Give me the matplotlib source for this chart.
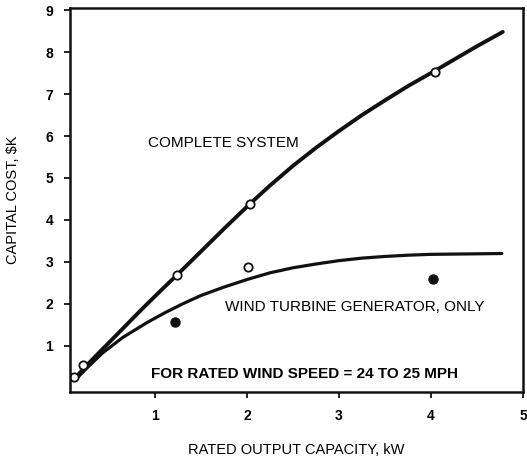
import matplotlib.pyplot as plt

plt.rcParams.update({"font.family": ["Liberation Sans", "DejaVu Sans"], "font.size": 11})

# curves (kW, $K)
complete_x = [0.11, 0.2, 0.33, 0.6, 0.86, 1.05, 1.24, 1.5, 1.75, 2.03, 2.25, 2.5,
              2.75, 3.0, 3.25, 3.5, 3.75, 4.04, 4.25, 4.5, 4.78]
complete_y = [0.18, 0.40, 0.70, 1.30, 1.88, 2.29, 2.69, 3.25, 3.79, 4.38, 4.82, 5.29,
              5.72, 6.12, 6.50, 6.85, 7.19, 7.55, 7.82, 8.14, 8.48]
wind_x = [0.13, 0.25, 0.43, 0.65, 0.91, 1.1, 1.3, 1.5, 1.75, 2.0, 2.25, 2.5,
          2.75, 3.0, 3.25, 3.5, 3.75, 4.0, 4.4, 4.77]
wind_y = [0.18, 0.45, 0.83, 1.20, 1.55, 1.78, 2.00, 2.20, 2.40, 2.58, 2.74, 2.86,
          2.95, 3.03, 3.09, 3.13, 3.16, 3.18, 3.19, 3.20]

# data points
open_x = [0.12, 0.22, 1.24, 2.01, 2.03, 4.04]
open_y = [0.25, 0.55, 2.69, 2.88, 4.38, 7.52]
filled_x = [1.22, 4.02]
filled_y = [1.57, 2.60]

xticks = [1, 2, 3, 4, 5]
yticks = [1, 2, 3, 4, 5, 6, 7, 8, 9]

fig = plt.figure(figsize=(5.27, 4.65), dpi=100)
ax = fig.add_axes([70 / 527, 1 - 392 / 465, 453 / 527, 384 / 465])

ax.plot(complete_x, complete_y, color="#111111", lw=2.8,
        solid_capstyle="round", solid_joinstyle="round")
ax.plot(wind_x, wind_y, color="#111111", lw=2.3,
        solid_capstyle="round", solid_joinstyle="round")
ax.plot(open_x, open_y, "o", ms=6, mfc="white", mec="#111111", mew=1.3)
ax.plot(filled_x, filled_y, "o", ms=6.5, mfc="#111111", mec="#111111")

ax.text(1.74, 5.83, "COMPLETE SYSTEM", ha="center", va="center", fontsize=11)
ax.text(3.17, 1.93, "WIND TURBINE GENERATOR, ONLY", ha="center", va="center", fontsize=11)
ax.text(2.63, 0.33, "FOR RATED WIND SPEED = 24 TO 25 MPH", ha="center", va="center",
        fontsize=11, fontweight="bold")

ax.set_xlim(0.076, 5.0)
ax.set_ylim(-0.1, 9.05)
ax.set_xticks(xticks)
ax.set_yticks(yticks)
ax.tick_params(direction="out", length=4, width=1.3, labelsize=10, color="#111111")
for lbl in ax.get_xticklabels() + ax.get_yticklabels():
    lbl.set_fontweight("bold")
ax.tick_params(axis="x", pad=8)
ax.tick_params(axis="y", pad=8)
for s in ax.spines.values():
    s.set_linewidth(1.8)
    s.set_color("#111111")

ax.set_xlabel("RATED OUTPUT CAPACITY, kW", fontsize=10.5)
ax.set_ylabel("CAPITAL COST, $K", fontsize=10.5)
ax.xaxis.set_label_coords(0.5, -0.133)
ax.yaxis.set_label_coords(-0.11, 0.5)

fig.savefig("out.png", dpi=100)
